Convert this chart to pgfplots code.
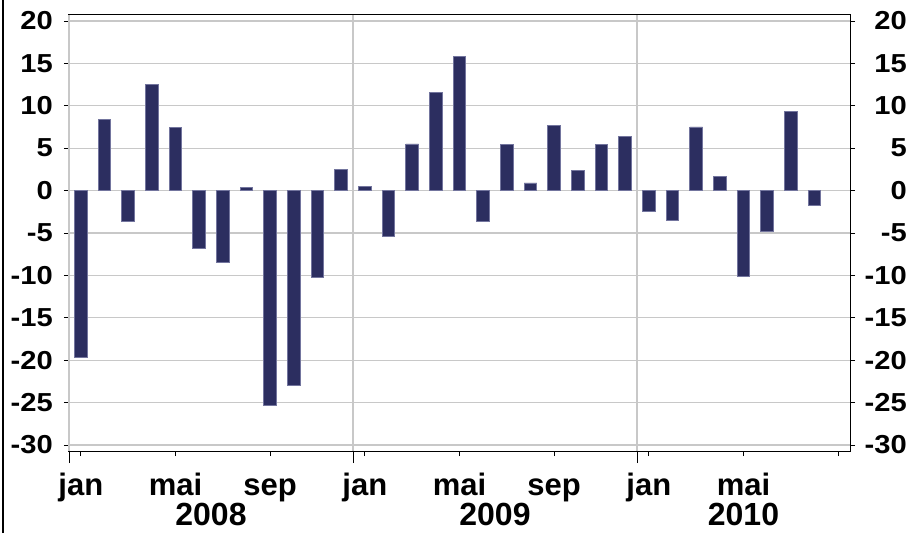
\documentclass[border=0pt]{standalone}
\usepackage{pgfplots}
\pgfplotsset{compat=1.18}
\usepackage{fontspec}
\setmainfont{Liberation Sans}
\newfontfamily\yfont[FakeStretch=1.12]{Liberation Sans}
\definecolor{barfill}{RGB}{44,46,96}
\definecolor{baredge}{RGB}{115,117,158}
\definecolor{gridgray}{RGB}{200,200,200}
\begin{document}
\begin{tikzpicture}
\path[use as bounding box] (0,0) rectangle (910pt,533pt);
\draw[line width=2pt,black] (3pt,0) -- (3pt,533pt);
\begin{axis}[
  at={(69pt,82pt)}, anchor=south west,
  scale only axis, width=781pt, height=436pt,
  clip mode=individual,
  xmin=-0.5, xmax=32.5, ymin=-30.7, ymax=20.7,
  axis line style={line width=1pt,black},
  xtick={0,4,...,32},
  xticklabels={jan,mai,sep,jan,mai,sep,jan,mai,},
  xtick pos=bottom,
  x tick style={line width=0.8pt,black},
  xticklabel style={font=\fontsize{31}{31}\selectfont\bfseries, anchor=base, yshift=-39pt, inner sep=0pt},
  extra x ticks={-0.5,11.5,23.5},
  extra x tick labels={},
  extra x tick style={grid=major, major tick length=12pt, tick style={line width=0.8pt,black}},
  major grid style={gridgray, line width=1.2pt},
  ytick={-30,-25,...,20},
  yticklabels={-30,-25,-20,-15,-10,-5,0,5,10,15,20},
  ymajorgrids,
  ytick pos=both,
  yticklabel pos=left,
  y tick style={line width=0.8pt,black},
  tick align=outside,
  major tick length=5pt,
  yticklabel style={font=\fontsize{26}{26}\selectfont\yfont\bfseries, anchor=east, inner sep=0pt, xshift=-11pt},
]
\addplot[ybar, bar width=12.7pt, fill=barfill, draw=baredge, line width=0.8pt]
coordinates {
(0,-19.7) (1,8.4) (2,-3.6) (3,12.5) (4,7.4) (5,-6.8) (6,-8.5) (7,0.4)
(8,-25.3) (9,-23.0) (10,-10.2) (11,2.5)
(12,0.5) (13,-5.4) (14,5.5) (15,11.6) (16,15.8) (17,-3.6) (18,5.4) (19,0.9)
(20,7.7) (21,2.4) (22,5.4) (23,6.4)
(24,-2.4) (25,-3.5) (26,7.5) (27,1.7) (28,-10.1) (29,-4.8) (30,9.3) (31,-1.7)
};
\node[font=\fontsize{32}{32}\selectfont\bfseries, anchor=base, inner sep=0pt] at (axis cs:5.5,-30.7) [yshift=-74pt] {2008};
\node[font=\fontsize{32}{32}\selectfont\bfseries, anchor=base, inner sep=0pt] at (axis cs:17.5,-30.7) [yshift=-74pt] {2009};
\node[font=\fontsize{32}{32}\selectfont\bfseries, anchor=base, inner sep=0pt] at (axis cs:28,-30.7) [yshift=-74pt] {2010};
\end{axis}
\begin{axis}[
  at={(69pt,82pt)}, anchor=south west,
  scale only axis, width=781pt, height=436pt,
  xmin=-0.5, xmax=32.5, ymin=-30.7, ymax=20.7,
  axis x line=none,
  axis y line*=right,
  axis line style={draw=none},
  major tick length=0pt,
  ytick={-30,-25,...,20},
  yticklabels={-30,-25,-20,-15,-10,-5,0,5,10,15,20},
  yticklabel style={font=\fontsize{26}{26}\selectfont\yfont\bfseries, anchor=east, inner sep=0pt, xshift=57pt},
]
\addplot[draw=none] coordinates {(0,0)};
\end{axis}
\end{tikzpicture}
\end{document}
